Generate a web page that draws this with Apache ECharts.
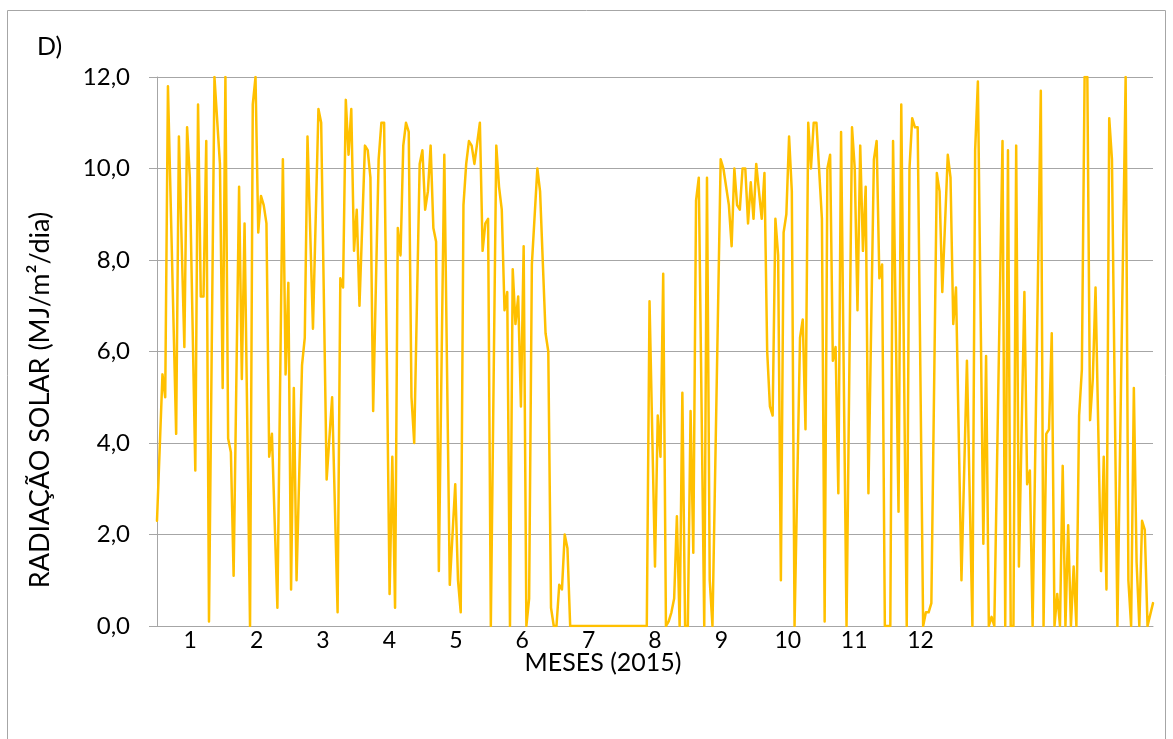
<!DOCTYPE html>
<html>
<head>
<meta charset="utf-8">
<script src="https://cdn.jsdelivr.net/npm/echarts@6/dist/echarts.min.js"></script>
<style>
  html, body { margin: 0; padding: 0; background: #ffffff; }
  #chart { width: 1173px; height: 739px; }
</style>
</head>
<body>
<div id="chart"></div>
<script>
// Daily solar radiation (MJ/m²/dia), 2015 — day of year (0-based) and value
const days = [
  0, 2, 3, 4, 7, 8, 10, 11, 12, 14, 15, 16, 17, 18, 19, 21, 23, 24, 25, 26, 27, 28,
  30, 31, 32, 34, 35, 36, 37, 38, 39, 40, 41, 42, 44, 46, 47, 48, 49, 50, 51, 53, 54, 55, 57, 59, 60,
  62, 64, 66, 67, 68, 69, 70, 71, 72, 73, 74, 76, 77, 78, 79, 81, 82, 83, 85, 86, 87, 88, 89, 90, 91,
  92, 93, 94, 96, 97, 98, 99, 100, 101, 102, 103, 105, 107, 109, 110, 111, 112, 113, 114, 115, 116, 118, 119, 120, 121, 122,
  124, 125, 126, 127, 128, 129, 130, 131, 132, 133, 134, 135, 136, 137, 139, 140, 142, 143, 144, 145, 146, 147, 148, 149, 150, 151,
  179, 180, 182, 183, 184, 185, 186, 187, 188, 189, 190, 191, 192, 193, 194, 195, 196, 197, 198, 200, 201, 202, 203, 206, 207, 209,
  210, 211, 212, 213, 214, 215, 216, 217, 218, 219, 220, 221, 222, 223, 224, 225, 226, 227, 228, 229, 230, 231, 232, 233, 235, 236, 237, 238, 239, 240, 241,
  243, 244, 245, 246, 247, 248, 249, 250, 252, 254, 255, 256, 257, 258, 259, 260, 262, 263, 264, 265, 266, 267, 268, 269, 271, 272,
  274, 275, 276, 277, 278, 280, 281, 282, 283, 285, 286, 287, 289, 290, 291, 292, 294, 296, 298, 299, 300, 302, 303,
  304, 305, 306, 309, 310, 311, 312, 313, 314, 315, 317, 318, 319, 320, 323, 324, 325, 326, 327, 328, 329, 330, 331, 332, 333, 334, 335,
  336, 337, 338, 339, 340, 341, 342, 343, 345, 346, 347, 348, 349, 351, 354, 355, 356, 357, 358, 359, 360, 361, 362, 364
];
const radiation = [
  2.3, 5.5, 5.0, 11.8, 4.2, 10.7, 6.1, 10.9, 9.8, 3.4, 11.4, 7.2, 7.2, 10.6, 0.1, 12.0, 10.1, 5.2, 12.0, 4.1, 3.8, 1.1,
  9.6, 5.4, 8.8, 0.0, 11.4, 12.0, 8.6, 9.4, 9.2, 8.8, 3.7, 4.2, 0.4, 10.2, 5.5, 7.5, 0.8, 5.2, 1.0, 5.7, 6.3, 10.7, 6.5, 11.3, 11.0,
  3.2, 5.0, 0.3, 7.6, 7.4, 11.5, 10.3, 11.3, 8.2, 9.1, 7.0, 10.5, 10.4, 9.8, 4.7, 10.2, 11.0, 11.0, 0.7, 3.7, 0.4, 8.7, 8.1, 10.5, 11.0,
  10.8, 5.0, 4.0, 10.1, 10.4, 9.1, 9.5, 10.5, 8.7, 8.4, 1.2, 10.3, 0.9, 3.1, 1.0, 0.3, 9.2, 10.1, 10.6, 10.5, 10.1, 11.0, 8.2, 8.8, 8.9, 0.0,
  10.5, 9.6, 9.1, 6.9, 7.3, 0.0, 7.8, 6.6, 7.2, 4.8, 8.3, 0.0, 0.6, 7.9, 10.0, 9.5, 6.4, 6.0, 0.4, 0.0, 0.0, 0.9, 0.8, 2.0, 1.7, 0.0,
  0.0, 7.1, 1.3, 4.6, 3.7, 7.7, 0.0, 0.1, 0.3, 0.6, 2.4, 0.0, 5.1, 0.0, 0.0, 4.7, 1.6, 9.3, 9.8, 0.0, 9.8, 1.0, 0.0, 10.2, 10.0, 9.2,
  8.3, 10.0, 9.2, 9.1, 10.0, 10.0, 8.8, 9.7, 8.9, 10.1, 9.5, 8.9, 9.9, 6.0, 4.8, 4.6, 8.9, 8.1, 1.0, 8.6, 9.0, 10.7, 9.5, 0.0, 6.3, 6.7, 4.3, 11.0, 10.0, 11.0, 11.0,
  8.9, 0.1, 10.0, 10.3, 5.8, 6.1, 2.9, 10.8, 0.0, 10.9, 10.0, 6.9, 10.5, 8.2, 9.6, 2.9, 10.2, 10.6, 7.6, 7.9, 0.0, 0.0, 0.0, 10.6, 2.5, 11.4,
  0.0, 10.0, 11.1, 10.9, 10.9, 0.0, 0.3, 0.3, 0.5, 9.9, 9.5, 7.3, 10.3, 9.8, 6.6, 7.4, 1.0, 5.8, 0.0, 10.4, 11.9, 1.8, 5.9,
  0.0, 0.2, 0.0, 10.6, 0.0, 10.4, 0.0, 0.0, 10.5, 1.3, 7.3, 3.1, 3.4, 0.0, 11.7, 0.0, 4.2, 4.3, 6.4, 0.0, 0.7, 0.0, 3.5, 0.0, 2.2, 0.0, 1.3,
  0.0, 4.6, 5.6, 12.0, 12.0, 4.5, 5.4, 7.4, 1.2, 3.7, 0.8, 11.1, 10.2, 0.0, 12.0, 1.0, 0.0, 5.2, 1.4, 0.0, 2.3, 2.1, 0.0, 0.5
];
// Month labels along the bottom axis (15 equal slots, the last three unlabeled)
const monthLabels = ['1', '2', '3', '4', '5', '6', '7', '8', '9', '10', '11', '12', '', '', ''];
const yMin = 0, yMax = 12, yStep = 2;

const FONT = 'Lato';
const GRID = { left: 157, right: 20, top: 77, bottom: 113 };

const chart = echarts.init(document.getElementById('chart'), null, { renderer: 'canvas' });

chart.setOption({
  animation: false,
  backgroundColor: '#ffffff',
  grid: GRID,
  xAxis: [
    {
      type: 'value',
      min: 0,
      max: 364,
      show: false
    },
    {
      type: 'category',
      data: monthLabels,
      position: 'bottom',
      boundaryGap: true,
      axisLine: { show: true, lineStyle: { color: '#a6a6a6', width: 1 } },
      axisTick: { show: false },
      splitLine: { show: false },
      axisLabel: {
        show: true,
        interval: 0,
        margin: 3,
        color: '#000000',
        fontFamily: FONT,
        fontSize: 23
      }
    }
  ],
  yAxis: {
    type: 'value',
    min: yMin,
    max: yMax,
    interval: yStep,
    axisLine: { show: true, lineStyle: { color: '#a6a6a6', width: 1 } },
    axisTick: { show: true, length: 8, inside: false, lineStyle: { color: '#a6a6a6', width: 1 } },
    splitLine: { show: true, lineStyle: { color: '#a6a6a6', width: 1 } },
    axisLabel: {
      margin: 27,
      color: '#000000',
      fontFamily: FONT,
      fontSize: 24,
      formatter: v => v.toFixed(1).replace('.', ',')
    }
  },
  series: [
    {
      type: 'line',
      xAxisIndex: 0,
      yAxisIndex: 0,
      data: days.map((d, i) => [d, radiation[i]]),
      showSymbol: false,
      symbol: 'none',
      clip: true,
      lineStyle: { color: '#FFC000', width: 2.5, cap: 'round', join: 'round' }
    }
  ],
  graphic: [
    {
      type: 'rect',
      silent: true,
      shape: { x: 7.5, y: 10.5, width: 1158, height: 760 },
      style: { fill: 'none', stroke: '#a6a6a6', lineWidth: 1 }
    },
    {
      type: 'text',
      left: 37,
      top: 34,
      style: { text: 'D)', fill: '#000000', font: '25px ' + FONT }
    },
    {
      type: 'text',
      x: 40,
      y: 400,
      rotation: Math.PI / 2,
      style: {
        text: 'RADIAÇÃO SOLAR (MJ/m²/dia)',
        fill: '#000000',
        font: '27px ' + FONT,
        align: 'center',
        verticalAlign: 'middle'
      }
    },
    {
      type: 'text',
      x: 603,
      y: 663,
      style: {
        text: 'MESES (2015)',
        fill: '#000000',
        font: '25px ' + FONT,
        align: 'center',
        verticalAlign: 'middle'
      }
    }
  ]
});
</script>
</body>
</html>
